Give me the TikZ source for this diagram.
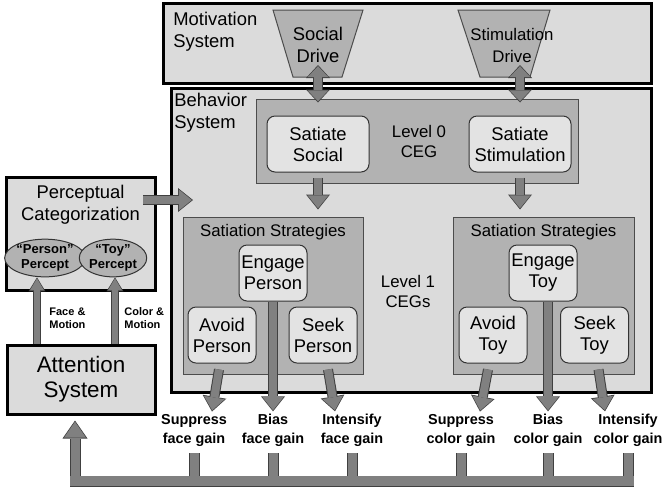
\documentclass[tikz,border=0pt]{standalone}
\usepackage{fontspec}
\setmainfont{Liberation Sans}
\usetikzlibrary{arrows.meta}
\usetikzlibrary{calc}
\usetikzlibrary{shapes.geometric}

\definecolor{lightfill}{gray}{0.86}
\definecolor{midfill}{gray}{0.70}
\definecolor{arrowfill}{gray}{0.50}
\definecolor{boxfill}{gray}{0.89}

\begin{document}
\begin{tikzpicture}[x=0.5pt, y=-0.5pt,
        sys_style/.style={draw=black, line width=1.5pt, fill=lightfill, inner sep=0pt},
        ceg_style/.style={draw=black!70, line width=0.5pt, fill=midfill, inner sep=0pt},
        beh_style/.style={draw=black!80, line width=0.5pt, fill=boxfill, rounded corners=4pt, inner sep=0pt, align=center, minimum height=28pt, font=\fontsize{9.2}{10.5}\selectfont},
        percept_style/.style={ellipse, draw=black!80, line width=0.5pt, fill=midfill, inner sep=0pt, align=center, minimum height=16pt, font=\bfseries\fontsize{6.5}{7.5}\selectfont},
        text_style/.style={align=center, inner sep=0pt, font=\fontsize{9.2}{11}\selectfont},
        gain_style/.style={align=center, inner sep=1pt, font=\bfseries\fontsize{7.2}{9.5}\selectfont},
        edge_style/.style={draw=arrowfill, line width=4pt, shorten >=0.6pt, -{Triangle[length=6.5pt,width=10.5pt,line width=0pt]},
            preaction={draw=black!75, line width=5pt, shorten >=0pt, -{Triangle[length=7.5pt,width=12pt,line width=0pt]}}},
        dbl_edge_style/.style={draw=arrowfill, line width=4pt, shorten >=0.6pt, shorten <=0.6pt, {Triangle[length=5.5pt,width=10.5pt,line width=0pt]}-{Triangle[length=5.5pt,width=10.5pt,line width=0pt]},
            preaction={draw=black!75, line width=5pt, shorten >=0pt, shorten <=0pt, {Triangle[length=6.5pt,width=12pt,line width=0pt]}-{Triangle[length=6.5pt,width=12pt,line width=0pt]}}},
        small_edge_style/.style={draw=arrowfill, line width=3pt, shorten >=0.5pt, -{Triangle[length=6pt,width=7pt,line width=0pt]},
            preaction={draw=black!75, line width=4pt, shorten >=0pt, -{Triangle[length=7pt,width=8.5pt,line width=0pt]}}},
        up_edge_style/.style={draw=arrowfill, line width=4.5pt, shorten >=0.6pt, -{Triangle[length=8pt,width=11pt,line width=0pt]},
            preaction={draw=black!75, line width=5.5pt, shorten >=0pt, -{Triangle[length=9pt,width=12.5pt,line width=0pt]}}},
        bus_style/.style={draw=arrowfill, line width=4.5pt, preaction={draw=black!75, line width=5.5pt}}]

        \useasboundingbox (0,0) rectangle (662,489);

        % systems
        \node [sys_style, minimum width=244pt, minimum height=40pt] (motiv) at (407,43) {};

        \node [sys_style, minimum width=240pt, minimum height=152pt] (behav) at (411,240) {};

        \node [text_style, anchor=north west, align=left] (motiv_lbl) at (173,12) {Motivation\\System};

        \node [text_style, anchor=north west, align=left] (behav_lbl) at (174,93) {Behavior\\System};

        % drives
        \filldraw [ceg_style] (273,10) -- (363,10) -- (342,77) -- (293,77) -- cycle;
        \node [text_style] (soc_drive) at (318,45) {Social\\Drive};

        \filldraw [ceg_style] (458,10) -- (550,10) -- (530,77) -- (480,77) -- cycle;
        \node [text_style, font=\fontsize{8.4}{11}\selectfont] (stim_drive) at (512,45) {Stimulation\\Drive};

        \coordinate (sd_tip) at (318,65);
        \coordinate (st_tip) at (520,65);

        % level 0
        \node [ceg_style, minimum width=161pt, minimum height=42pt] (lvl0) at (417,141) {};

        \node [beh_style, minimum width=51pt] (sat_soc) at (318,144) {Satiate\\Social};

        \node [beh_style, minimum width=51pt] (sat_stim) at (520,144) {Satiate\\Stimulation};

        \node [text_style, font=\fontsize{8.4}{10}\selectfont] (lvl0_lbl) at (419,141) {Level 0\\CEG};

        % level 1
        \node [ceg_style, minimum width=90pt, minimum height=78.5pt] (strat_p) at (273,295.5) {};

        \node [ceg_style, minimum width=90.5pt, minimum height=78.5pt] (strat_t) at (543.5,295.5) {};

        \node [text_style, font=\fontsize{8.4}{10}\selectfont] (strat_p_lbl) at (273,232) {Satiation Strategies};

        \node [text_style, font=\fontsize{8.4}{10}\selectfont] (strat_t_lbl) at (543.5,232) {Satiation Strategies};

        \node [text_style, font=\fontsize{8.4}{10}\selectfont] (lvl1_lbl) at (408,291) {Level 1\\CEGs};

        \node [beh_style, minimum width=34pt] (eng_p) at (273,273) {Engage\\Person};

        \node [beh_style, minimum width=34pt] (avo_p) at (222,335) {Avoid\\Person};

        \node [beh_style, minimum width=34pt] (seek_p) at (323,335) {Seek\\Person};

        \node [beh_style, minimum width=34pt] (eng_t) at (543,273) {Engage\\Toy};

        \node [beh_style, minimum width=34pt] (avo_t) at (493,335) {Avoid\\Toy};

        \node [beh_style, minimum width=34pt] (seek_t) at (594.5,335) {Seek\\Toy};

        % perception and attention
        \node [sys_style, minimum width=74.5pt, minimum height=56.5pt] (perc) at (80.5,233.5) {};

        \node [text_style] (perc_lbl) at (80.5,205) {Perceptual\\Categorization};

        \node [percept_style, minimum width=32pt] (per_p) at (45,258) {“Person”\\Percept};

        \node [percept_style, minimum width=33.5pt] (toy_p) at (113,258) {“Toy”\\Percept};

        \node [sys_style, minimum width=74pt, minimum height=34.5pt, align=center, font=\fontsize{11.2}{12.5}\selectfont] (att) at (81,379.5) {Attention\\System};

        \node [gain_style, anchor=west, align=left, font=\bfseries\fontsize{5.5}{6.5}\selectfont] (face_lbl) at (47,318) {Face \&\\Motion};

        \node [gain_style, anchor=west, align=left, font=\bfseries\fontsize{5.5}{6.5}\selectfont] (col_lbl) at (122,318) {Color \&\\Motion};

        \coordinate (perc_out) at (143,200);
        \coordinate (behav_in) at (193,200);

        % gains
        \node [gain_style] (sfg) at (194,430) {Suppress\\face gain};

        \node [gain_style] (bfg) at (273,430) {Bias\\face gain};

        \node [gain_style] (ifg) at (352,430) {Intensify\\face gain};

        \node [gain_style] (scg) at (461,430) {Suppress\\color gain};

        \node [gain_style] (bcg) at (548,430) {Bias\\color gain};

        \node [gain_style] (icg) at (628,430) {Intensify\\color gain};

        \coordinate (stub_top) at (0,453);
        \coordinate (bus_l) at (70,481);
        \coordinate (bus_r) at (634,481);
        \coordinate (bus_up) at (75,481);

        % connectors
        \draw [dbl_edge_style] (sd_tip) -- ($(lvl0.north -| sd_tip)+(0,4)$);

        \draw [dbl_edge_style] (st_tip) -- ($(lvl0.north -| st_tip)+(0,4)$);

        \draw [edge_style] ($(sat_soc.south)+(0,5)$) -- ($(strat_p.north -| sat_soc.south)+(0,-7)$);

        \draw [edge_style] ($(sat_stim.south)+(0,5)$) -- ($(strat_t.north -| sat_stim.south)+(0,-7)$);

        \draw [edge_style] (perc_out) -- (behav_in);

        \draw [small_edge_style] ($(att.north -| per_p.south)+(-8,0)$) -- ($(per_p.south)+(-8,0)$);

        \draw [small_edge_style] ($(att.north -| toy_p.south)+(2,0)$) -- ($(toy_p.south)+(2,0)$);

        \draw [edge_style] ($(avo_p.south)+(-3,6)$) -- ($(sfg.north)+(18,0)$);

        \draw [edge_style] (eng_p.south -| bfg.north) -- (bfg.north);

        \draw [edge_style] ($(seek_p.south)+(5,6)$) -- ($(ifg.north)+(-17,0)$);

        \draw [edge_style] ($(avo_t.south)+(-5,6)$) -- ($(scg.north)+(19,0)$);

        \draw [edge_style] (eng_t.south -| bcg.north) -- (bcg.north);

        \draw [edge_style] ($(seek_t.south)+(4,6)$) -- ($(icg.north)+(-23,0)$);

        % feedback bus
        \foreach \g in {sfg,bfg,ifg,scg,bcg,icg}
            \draw [bus_style] (\g.south |- stub_top) -- (\g.south |- bus_l);

        \draw [up_edge_style] (bus_up) -- ($(att.south -| bus_up)+(0,5)$);

        \draw [bus_style, line width=5pt, preaction={line width=6pt}] (bus_l) -- (bus_r);

        \end{tikzpicture}
\end{document}
